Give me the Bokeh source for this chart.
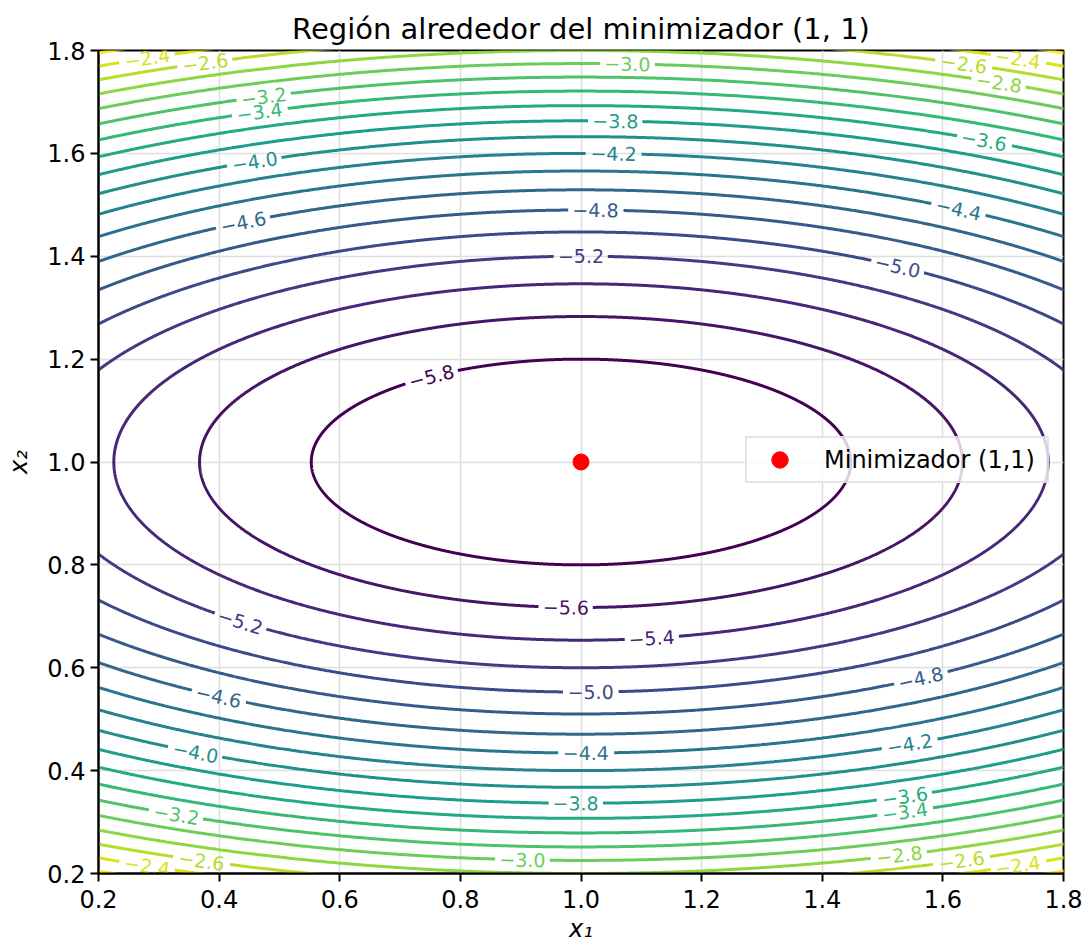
import numpy as np
from bokeh.plotting import figure
from bokeh.models import Legend, LegendItem, FixedTicker, PrintfTickFormatter, Range1d, ColumnDataSource
from bokeh.embed import file_html
from bokeh.resources import INLINE
from bokeh.palettes import Viridis256
from bokeh.core.properties import value

# ---------------- data ----------------
title_text = "Región alrededor del minimizador (1, 1)"
x_label = "x₁"
y_label = "x₂"
x_min, x_max = 0.2, 1.8
y_min, y_max = 0.2, 1.8
x_ticks = [0.2, 0.4, 0.6, 0.8, 1.0, 1.2, 1.4, 1.6, 1.8]
y_ticks = [0.2, 0.4, 0.6, 0.8, 1.0, 1.2, 1.4, 1.6, 1.8]

minimizer_x = [1.0]
minimizer_y = [1.0]
minimizer_label = "Minimizador (1,1)"

# quadratic model: f = f_min + c1 (x1-1)^2 + c2 (x2-1)^2
f_min = -6.0
center_x1 = 1.0
center_x2 = 1.0
coef_x1 = 1.0
coef_x2 = 5.0

levels = [-5.8, -5.6, -5.4, -5.2, -5.0, -4.8, -4.6, -4.4, -4.2, -4.0,
          -3.8, -3.6, -3.4, -3.2, -3.0, -2.8, -2.6, -2.4, -2.2]

# inline contour labels: level, x1 position, side (+1 upper half, -1 lower half)
label_levels = [-2.4, -2.6, -3.2, -3.4, -4.0, -4.6, -5.8, -3.0, -3.8, -4.2, -4.8, -5.2,
                -2.4, -2.6, -2.8, -3.6, -4.4, -5.0,
                -5.6, -5.4, -5.2, -5.0, -4.8, -4.6, -4.4, -4.2, -4.0, -3.8, -3.6, -3.4,
                -3.2, -3.0, -2.8, -2.6, -2.4, -2.6, -2.4]
label_x = [0.281, 0.377, 0.474, 0.467, 0.459, 0.44, 0.752, 1.077, 1.057, 1.054, 1.024, 1.0,
           1.724, 1.635, 1.693, 1.668, 1.626, 1.525,
           0.975, 1.117, 0.435, 1.016, 1.563, 0.399, 1.008, 1.545, 0.361, 0.991, 1.537, 1.537,
           0.329, 0.903, 1.528, 1.631, 1.724, 0.371, 0.281]
label_side = [1, 1, 1, 1, 1, 1, 1, 1, 1, 1, 1, 1,
              1, 1, 1, 1, 1, 1,
              -1, -1, -1, -1, -1, -1, -1, -1, -1, -1, -1, -1,
              -1, -1, -1, -1, -1, -1, -1]

# ---------------- layout ----------------
FRAME_W, FRAME_H = 965, 823
FONT = "DejaVu Sans"
LABEL_PX = 19
sx = FRAME_W / (x_max - x_min)
sy = FRAME_H / (y_max - y_min)

def level_color(lev):
    frac = (lev - levels[0]) / (levels[-1] - levels[0])
    return Viridis256[int(round(frac * 255))]

def semi_axes(lev):
    r = lev - f_min
    return np.sqrt(r / coef_x1), np.sqrt(r / coef_x2)

def fmt(lev):
    return ("\u2212" if lev < 0 else "") + f"{abs(lev):.1f}"

# label geometry
lab_x, lab_y, lab_ang, lab_txt, lab_col = [], [], [], [], []
for lev, xl, side in zip(label_levels, label_x, label_side):
    a, b = semi_axes(lev)
    ct = np.clip((xl - center_x1) / a, -1, 1)
    t = np.arccos(ct) * (1 if side > 0 else -1)
    xx = center_x1 + a * np.cos(t)
    yy = center_x2 + b * np.sin(t)
    dx, dy = -a * np.sin(t) * sx, b * np.cos(t) * sy
    ang = np.arctan2(dy, dx)
    if ang > np.pi / 2:
        ang -= np.pi
    if ang < -np.pi / 2:
        ang += np.pi
    lab_x.append(xx); lab_y.append(yy); lab_ang.append(ang)
    lab_txt.append(fmt(lev)); lab_col.append(level_color(lev))

p = figure(frame_width=FRAME_W, frame_height=FRAME_H,
           x_range=Range1d(x_min, x_max), y_range=Range1d(y_min, y_max),
           output_backend="svg", toolbar_location=None,
           min_border_left=98, min_border_top=50, min_border_right=24, min_border_bottom=0,
           title=title_text)

p.title.align = "center"
p.title.text_font = FONT
p.title.text_font_size = "29px"
p.title.text_font_style = "normal"
p.title.text_color = "black"
p.title.standoff = 10

# contour lines with gaps at the labels
tt = np.linspace(0, 2 * np.pi, 3000)
for lev in levels:
    a, b = semi_axes(lev)
    xs = center_x1 + a * np.cos(tt)
    ys = center_x2 + b * np.sin(tt)
    for lx, ly, txt, ll in zip(lab_x, lab_y, lab_txt, label_levels):
        if ll != lev:
            continue
        half_gap = 0.5 * len(txt) * 0.6 * LABEL_PX + 4
        d = np.hypot((xs - lx) * sx, (ys - ly) * sy)
        xs = np.where(d < half_gap, np.nan, xs)
        ys = np.where(d < half_gap, np.nan, ys)
    p.line(xs, ys, line_color=level_color(lev), line_width=3)

src = ColumnDataSource(dict(x=lab_x, y=lab_y, angle=lab_ang, text=lab_txt, color=lab_col))
p.text(x="x", y="y", text="text", angle="angle", text_color="color", source=src,
       text_align="center", text_baseline="middle",
       text_font=value(FONT), text_font_size=f"{LABEL_PX}px")

r = p.scatter(minimizer_x, minimizer_y, size=16, color="red", marker="circle")

legend = Legend(items=[LegendItem(label=minimizer_label, renderers=[r])],
                location=(647, 390), margin=0, padding=1,
                glyph_width=63, glyph_height=41, label_standoff=13, label_width=222,
                label_height=41,
                label_text_font=FONT, label_text_font_size="24px", label_text_color="black",
                border_line_color="#cccccc", border_line_width=2,
                background_fill_color="white", background_fill_alpha=0.8)
p.add_layout(legend)

# axes
p.xaxis.ticker = FixedTicker(ticks=x_ticks)
p.yaxis.ticker = FixedTicker(ticks=y_ticks)
p.xaxis.formatter = PrintfTickFormatter(format="%.1f")
p.yaxis.formatter = PrintfTickFormatter(format="%.1f")
p.xaxis.axis_label = x_label
p.yaxis.axis_label = y_label
for ax in (p.xaxis, p.yaxis):
    ax.axis_label_text_font = FONT
    ax.axis_label_text_font_size = "24px"
    ax.axis_label_text_font_style = "italic"
    ax.axis_label_text_color = "black"
    ax.major_label_text_font = FONT
    ax.major_label_text_font_size = "24px"
    ax.major_label_text_color = "black"
    ax.major_tick_out = 8
    ax.major_tick_in = 0
    ax.major_tick_line_width = 2
    ax.major_tick_line_color = "black"
    ax.minor_tick_line_color = None
    ax.axis_line_width = 2
    ax.axis_line_color = "black"
p.xaxis.major_label_standoff = 8
p.xaxis.axis_label_standoff = 4
p.yaxis.major_label_standoff = 5
p.yaxis.axis_label_standoff = 11

p.grid.grid_line_color = "#dedede"
p.grid.grid_line_width = 1.5
p.outline_line_color = "black"
p.outline_line_width = 2
p.outline_line_alpha = 1.0
p.background_fill_color = "white"

open("out.html", "w").write(file_html(p, INLINE))
